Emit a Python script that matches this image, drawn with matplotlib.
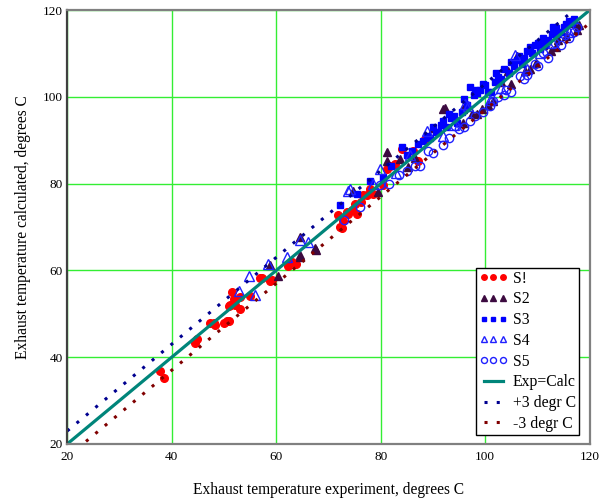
import numpy as np
import matplotlib
matplotlib.use('Agg')
import matplotlib.pyplot as plt

plt.rcParams['font.family'] = ['Liberation Serif', 'DejaVu Serif']

# S! - red circles
s1_x = [37.8, 38.6, 44.5, 44.8, 47.4, 48.2, 48.0, 50.0, 50.5, 50.9,
        51.2, 50.9, 52.2, 53.1, 51.5, 52.0, 53.0, 55.0, 56.9, 57.2,
        58.8, 59.1, 62.2, 63.0, 63.8, 71.8, 72.2, 72.5, 72.8, 73.5,
        73.7, 74.5, 75.1, 75.4, 76.3, 76.6, 77.3, 77.9, 78.5, 80.4,
        81.1, 81.8, 82.7, 84.0, 86.2, 87.2, 88.5]
s1_y = [36.9, 35.3, 43.2, 44.1, 47.9, 47.5, 47.9, 47.8, 48.4, 48.4,
        52.1, 51.8, 52.1, 51.0, 55.0, 53.5, 53.8, 54.1, 58.2, 58.2,
        57.5, 57.8, 61.0, 62.0, 61.5, 72.7, 70.1, 69.7, 71.3, 73.5,
        73.1, 74.0, 75.4, 73.1, 75.8, 77.3, 77.3, 78.8, 77.5, 79.6,
        83.4, 84.1, 84.5, 88.0, 87.6, 85.3, 90.3]

# S2 - dark triangles
s2_x = [58.8, 60.4, 64.5, 64.5, 64.5, 67.4, 67.7, 74.7, 79.5, 81.1,
        81.1, 83.7, 85.3, 86.5, 90.0, 91.9, 92.3, 95.8, 95.8, 97.5,
        99.3, 101.5, 103.0, 104.4, 106.0, 107.6, 109.8, 111.0, 112.5, 114.0,
        115.5, 116.8, 118.0, 98.5, 100.5, 105.0, 108.5, 113.5, 117.5]
s2_y = [61.3, 58.6, 63.2, 67.7, 63.5, 65.1, 64.8, 78.4, 78.0, 87.2,
        85.3, 85.7, 83.8, 86.0, 92.9, 97.1, 97.5, 94.0, 97.1, 96.0,
        97.1, 99.0, 103.5, 105.9, 109.3, 105.9, 107.8, 112.0, 110.5, 113.0,
        114.0, 117.0, 116.5, 96.0, 98.0, 103.0, 106.5, 111.5, 115.5]

# S3 - blue squares
s3_x = [72.2, 75.5, 77.9, 80.5, 82.0, 84.0, 85.0, 86.0, 87.2, 88.0,
        88.8, 89.5, 90.5, 91.5, 92.5, 93.5, 94.5, 95.5, 96.5, 97.1,
        97.8, 98.4, 99.0, 100.0, 101.0, 101.8, 102.5, 103.5, 104.5, 105.0,
        106.0, 107.0, 108.0, 108.5, 109.5, 110.5, 111.0, 112.0, 112.8, 113.6,
        114.5, 115.5, 116.5, 96.0, 98.0, 99.5, 100.5, 102.0, 103.0, 105.5,
        106.5, 107.5, 109.0, 110.0, 111.5, 113.0, 114.0, 115.0, 116.0, 117.0,
        90.0, 91.0, 92.0, 93.0, 94.0]
s3_y = [75.0, 77.5, 80.7, 81.5, 84.0, 88.4, 86.5, 87.5, 89.2, 89.8,
        91.0, 90.5, 92.0, 93.5, 93.0, 95.0, 94.0, 96.5, 98.0, 102.2,
        100.5, 100.9, 101.5, 102.8, 101.2, 103.5, 104.5, 106.5, 105.5, 108.0,
        108.5, 107.5, 110.5, 111.5, 112.0, 111.0, 113.5, 113.0, 114.5, 115.8,
        115.0, 116.8, 117.0, 99.5, 101.5, 103.0, 101.0, 105.5, 104.0, 107.0,
        109.5, 109.0, 110.0, 112.5, 112.0, 116.0, 114.5, 116.0, 117.5, 118.0,
        93.0, 92.0, 94.5, 96.0, 95.5]

# S4 - open triangles
s4_x = [52.8, 54.7, 55.9, 58.5, 62.0, 64.5, 66.0, 73.7, 74.1, 78.5,
        79.8, 83.0, 85.5, 88.8, 92.0, 94.0, 96.1, 96.7, 100.9, 103.0,
        105.7, 108.0, 110.5, 113.0, 116.0]
s4_y = [55.2, 58.6, 54.4, 61.4, 63.2, 67.0, 66.5, 78.4, 78.8, 80.0,
        83.4, 82.5, 86.5, 92.2, 91.0, 93.5, 98.3, 97.9, 99.3, 102.0,
        109.7, 106.5, 110.0, 112.5, 115.0]

# S5 - open circles
s5_x = [73.0, 76.0, 79.8, 81.5, 83.5, 85.0, 86.5, 87.5, 89.1, 90.0,
        91.9, 93.0, 94.2, 96.0, 98.0, 99.5, 100.9, 102.5, 104.0, 105.0,
        106.6, 108.0, 109.5, 111.1, 112.0, 113.3, 114.5, 115.2, 117.0, 101.5,
        103.5, 107.5, 110.0, 116.0, 117.5, 95.0, 97.0]
s5_y = [71.5, 74.5, 79.6, 80.0, 82.0, 82.8, 84.1, 84.1, 87.6, 87.0,
        88.8, 90.5, 93.3, 93.0, 95.5, 96.5, 97.9, 100.0, 101.5, 101.0,
        104.8, 105.0, 107.5, 110.1, 109.0, 112.4, 112.0, 114.3, 115.0, 99.0,
        100.5, 104.0, 107.0, 113.5, 116.0, 92.5, 94.5]

line_x = np.array([20, 120])
offset = 3
ticks = [20, 40, 60, 80, 100, 120]

fig = plt.figure(figsize=(6, 5), dpi=100)
ax = fig.add_axes([0.112, 0.112, 0.871, 0.868])

ax.plot(s1_x, s1_y, 'o', color='#ff0000', ms=5.5, mec='#ff0000', label='S!')
ax.plot(s2_x, s2_y, '^', color='#3c0a40', ms=6, label='S2')
ax.plot(s3_x, s3_y, 's', color='#0000ff', ms=5, label='S3')
ax.plot(s4_x, s4_y, '^', mfc='none', mec='#2020ff', ms=6.5, mew=1, label='S4')
ax.plot(s5_x, s5_y, 'o', mfc='none', mec='#2020ff', ms=6, mew=1, label='S5')
ax.plot(line_x, line_x, color='#00857a', lw=2.3, label='Exp=Calc')
ax.plot(line_x, line_x + offset, color='#000090', lw=2.2, dashes=(1, 3),
        dash_capstyle='butt', label='+3 degr C')
ax.plot(line_x, line_x - offset, color='#800000', lw=2.2, dashes=(1, 3),
        dash_capstyle='butt', label='-3 degr C')

ax.set_xlim(20, 120)
ax.set_ylim(20, 120)
ax.set_xticks(ticks)
ax.set_yticks(ticks)
ax.grid(True, color='#33ee33', lw=1)
ax.set_axisbelow(True)
ax.tick_params(length=0, labelsize=9.5)
ax.tick_params(axis='x', pad=5)
ax.tick_params(axis='y', pad=3)
for sp in ax.spines.values():
    sp.set_color('#808080')
    sp.set_linewidth(1.6)
ax.spines['left'].set_color('#404040')

ax.set_xlabel('Exhaust temperature experiment, degrees C', fontsize=11.2, labelpad=14)
ax.set_ylabel('Exhaust temperature calculated, degrees C', fontsize=11.2, labelpad=9)

leg = ax.legend(loc='lower right', bbox_to_anchor=(0.979, 0.021), borderaxespad=0,
                fontsize=11.3, numpoints=3, markerscale=0.72, handlelength=1.85,
                handletextpad=0.3, labelspacing=0.3, borderpad=0.2, fancybox=False,
                framealpha=1, edgecolor='black')
leg.get_frame().set_linewidth(1)

fig.savefig('out.png', dpi=100)
